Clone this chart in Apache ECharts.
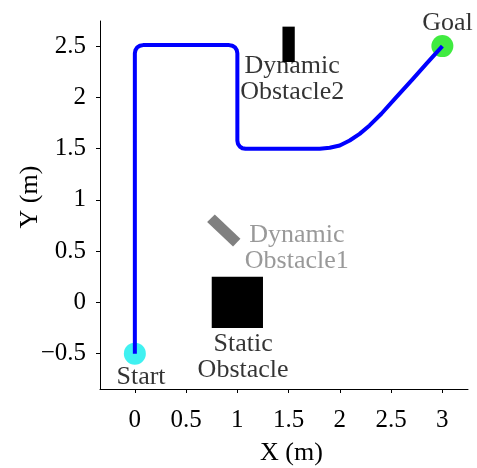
<!DOCTYPE html>
<html>
<head>
<meta charset="utf-8">
<script src="https://cdn.jsdelivr.net/npm/echarts@6/dist/echarts.min.js"></script>
<style>
  html, body { margin: 0; padding: 0; background: #fff; }
  #chart { width: 477px; height: 468px; }
</style>
</head>
<body>
<div id="chart"></div>
<script>
// Robot trajectory from start to goal (metres)
const pathX = [0, 0, 0, 0, 0.006, 0.023, 0.049, 0.08, 0.5, 0.92, 0.951, 0.977, 0.994, 1.0, 1.0, 1.006, 1.023, 1.049, 1.08, 1.6, 1.804, 1.901, 1.999, 2.096, 2.193, 2.29, 2.405, 2.551, 2.713, 2.843, 3.0];
const pathY = [-0.5, 1.0, 2.0, 2.43, 2.461, 2.487, 2.504, 2.51, 2.51, 2.51, 2.504, 2.487, 2.461, 2.43, 1.578, 1.547, 1.521, 1.504, 1.498, 1.498, 1.498, 1.508, 1.531, 1.579, 1.644, 1.726, 1.84, 2.002, 2.181, 2.327, 2.5];

// Start and goal points
const startPoint = [0, -0.5];
const goalPoint = [3, 2.5];

// Axis-aligned obstacles: [xMin, xMax, yMin, yMax]
const staticObstacle = [0.75, 1.25, -0.25, 0.25];
const dynamicObstacle2 = [1.44, 1.56, 2.345, 2.69];

// Tilted obstacle corners [x, y]
const dynamicObstacle1 = [[0.78, 0.857], [1.03, 0.62], [0.958, 0.546], [0.705, 0.783]];

// Ticks
const xTicks = [0, 0.5, 1, 1.5, 2, 2.5, 3];
const xTickLabels = ['0', '0.5', '1', '1.5', '2', '2.5', '3'];
const yTicks = [-0.5, 0, 0.5, 1, 1.5, 2, 2.5];
const yTickLabels = ['\u22120.5', '0', '0.5', '1', '1.5', '2', '2.5'];

// Text annotations: [text, x, y, colour]
const notes = [
  ['Goal', 3.05, 2.72, '#000'],
  ['Start', 0.06, -0.73, '#000'],
  ['Static\nObstacle', 1.056, -0.533, '#000'],
  ['Dynamic\nObstacle2', 1.535, 2.174, '#000'],
  ['Dynamic\nObstacle1', 1.58, 0.531, '#808080']
];

const FONT = 'Liberation Serif';

function rectItem(params, api) {
  const x0 = api.value(0), x1 = api.value(1), y0 = api.value(2), y1 = api.value(3);
  const p0 = api.coord([x0, y1]);
  const p1 = api.coord([x1, y0]);
  return {
    type: 'rect',
    shape: { x: p0[0], y: p0[1], width: p1[0] - p0[0], height: p1[1] - p0[1] },
    style: { fill: '#000' }
  };
}

const chart = echarts.init(document.getElementById('chart'), null, { renderer: 'canvas' });

chart.setOption({
  animation: false,
  backgroundColor: '#fff',
  grid: { left: 100, right: 9, top: 21, bottom: 79, containLabel: false, outerBoundsMode: 'none' },
  xAxis: {
    type: 'value',
    min: -0.34,
    max: 3.25,
    name: 'X (m)',
    nameLocation: 'middle',
    nameGap: 51,
    nameMoveOverlap: false,
    nameTextStyle: { fontFamily: FONT, fontSize: 26, color: '#000', padding: [0, 0, 0, 15] },
    axisLine: { show: true, onZero: false, lineStyle: { color: '#000', width: 1 } },
    axisTick: { show: true, length: 4, inside: false, customValues: xTicks, lineStyle: { color: '#000' } },
    axisLabel: {
      customValues: xTicks,
      margin: 19,
      fontFamily: FONT, fontSize: 25, color: '#000',
      formatter: v => xTickLabels[xTicks.indexOf(v)]
    },
    splitLine: { show: false }
  },
  yAxis: {
    type: 'value',
    min: -0.845,
    max: 2.745,
    name: 'Y (m)',
    nameLocation: 'middle',
    nameGap: 57,
    nameRotate: 90,
    nameMoveOverlap: false,
    nameTextStyle: { fontFamily: FONT, fontSize: 26, color: '#000', padding: [0, 0, 0, 16] },
    axisLine: { show: true, onZero: false, lineStyle: { color: '#000', width: 1 } },
    axisTick: { show: true, length: 4, inside: false, customValues: yTicks, lineStyle: { color: '#000' } },
    axisLabel: {
      customValues: yTicks,
      margin: 14,
      fontFamily: FONT, fontSize: 25, color: '#000',
      formatter: v => yTickLabels[yTicks.indexOf(v)]
    },
    splitLine: { show: false }
  },
  series: [
    {
      type: 'custom',
      name: 'obstacles',
      renderItem: rectItem,
      data: [staticObstacle, dynamicObstacle2],
      z: 2
    },
    {
      type: 'custom',
      name: 'tilted obstacle',
      renderItem: function (params, api) {
        const pts = dynamicObstacle1.map(p => api.coord(p));
        return { type: 'polygon', shape: { points: pts }, style: { fill: '#808080' } };
      },
      data: [0],
      z: 2
    },
    {
      type: 'scatter',
      name: 'endpoints',
      symbol: 'circle',
      symbolSize: 22,
      data: [
        { value: startPoint, itemStyle: { color: '#10eeee' } },
        { value: goalPoint, itemStyle: { color: '#10e610' } }
      ],
      z: 3
    },
    {
      type: 'line',
      name: 'path',
      data: pathX.map((x, i) => [x, pathY[i]]),
      showSymbol: false,
      smooth: false,
      lineStyle: { color: '#0000ff', width: 4, join: 'round' },
      z: 4
    },
    {
      type: 'scatter',
      name: 'labels',
      symbolSize: 0,
      silent: true,
      data: notes.map(n => ({
        value: [n[1], n[2]],
        label: {
          show: true,
          position: 'inside',
          formatter: n[0],
          fontFamily: FONT,
          fontSize: 26,
          lineHeight: 26,
          color: n[3],
          align: 'center',
          verticalAlign: 'middle'
        }
      })),
      z: 5
    }
  ]
});
</script>
</body>
</html>
